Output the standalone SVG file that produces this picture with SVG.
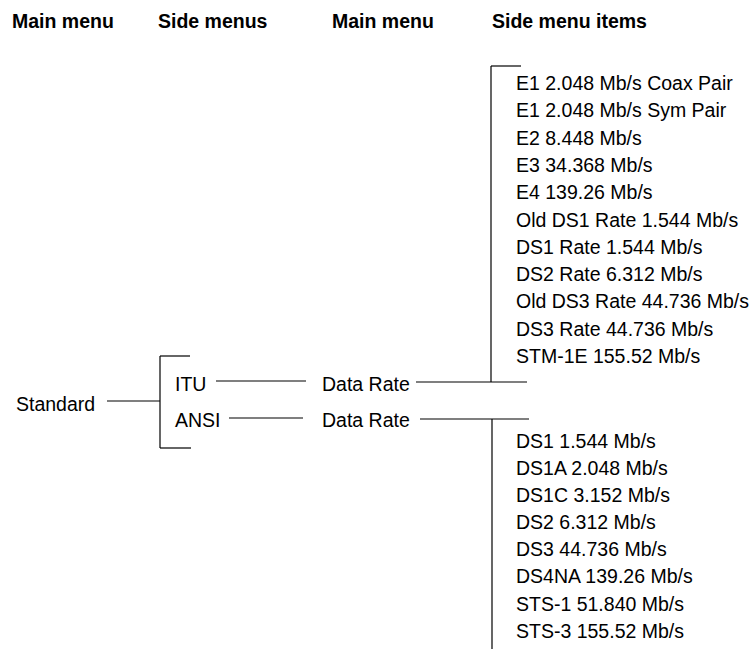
<svg xmlns="http://www.w3.org/2000/svg" width="754" height="650" viewBox="0 0 754 650">
<style>
text{font-family:"Liberation Sans",Arial,sans-serif;font-size:19.5px;fill:#000}
.h{font-weight:bold}
.c line{stroke:#000;stroke-width:1.2;fill:none}
</style>
<rect width="754" height="650" fill="#fff"/>
<g id="headers">
<text class="h" x="12" y="28">Main menu</text>
<text class="h" x="158" y="28">Side menus</text>
<text class="h" x="332" y="28">Main menu</text>
<text class="h" x="492" y="28">Side menu items</text>
</g>
<g id="standard"><text x="16" y="410.5">Standard</text></g>
<g id="itu"><text x="175" y="391">ITU</text></g>
<g id="ansi"><text x="175" y="427">ANSI</text></g>
<g id="itu-data-rate"><text x="322" y="391">Data Rate</text></g>
<g id="ansi-data-rate"><text x="322" y="427">Data Rate</text></g>
<g id="itu-items">
<text x="516" y="90">E1 2.048 Mb/s Coax Pair</text>
<text x="516" y="117.3">E1 2.048 Mb/s Sym Pair</text>
<text x="516" y="144.6">E2 8.448 Mb/s</text>
<text x="516" y="171.9">E3 34.368 Mb/s</text>
<text x="516" y="199.2">E4 139.26 Mb/s</text>
<text x="516" y="226.5">Old DS1 Rate 1.544 Mb/s</text>
<text x="516" y="253.8">DS1 Rate 1.544 Mb/s</text>
<text x="516" y="281.1">DS2 Rate 6.312 Mb/s</text>
<text x="516" y="308.4">Old DS3 Rate 44.736 Mb/s</text>
<text x="516" y="335.7">DS3 Rate 44.736 Mb/s</text>
<text x="516" y="363">STM-1E 155.52 Mb/s</text>
</g>
<g id="ansi-items">
<text x="516" y="448">DS1 1.544 Mb/s</text>
<text x="516" y="475">DS1A 2.048 Mb/s</text>
<text x="516" y="502">DS1C 3.152 Mb/s</text>
<text x="516" y="529.2">DS2 6.312 Mb/s</text>
<text x="516" y="556.3">DS3 44.736 Mb/s</text>
<text x="516" y="583.4">DS4NA 139.26 Mb/s</text>
<text x="516" y="610.5">STS-1 51.840 Mb/s</text>
<text x="516" y="637.5">STS-3 155.52 Mb/s</text>
</g>
<g id="connectors" class="c">
<line x1="107" y1="401" x2="160" y2="401"/>
<line x1="160" y1="356" x2="160" y2="448"/>
<line x1="160" y1="356" x2="190" y2="356"/>
<line x1="160" y1="448" x2="191" y2="448"/>
<line x1="216" y1="381" x2="306" y2="381"/>
<line x1="229" y1="418" x2="303" y2="418"/>
<line x1="416" y1="382" x2="527" y2="382"/>
<line x1="491" y1="66" x2="491" y2="382"/>
<line x1="491" y1="66" x2="521" y2="66"/>
<line x1="420" y1="419" x2="529" y2="419"/>
<line x1="492" y1="419" x2="492" y2="649"/>
</g>
</svg>
